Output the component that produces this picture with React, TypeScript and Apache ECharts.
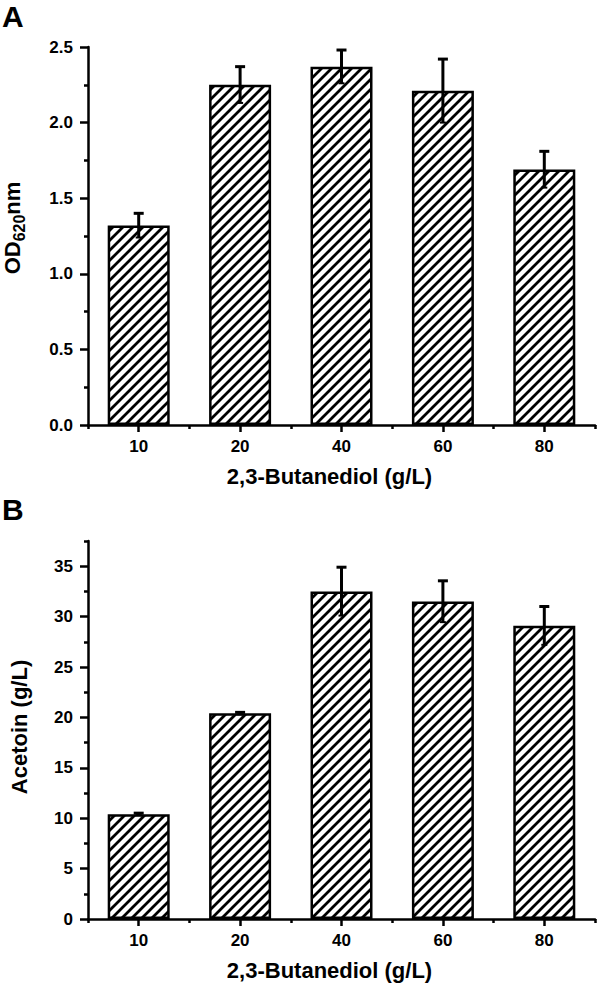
import React, { useEffect, useRef } from "react";
import * as echarts from "echarts";

const categories = ["10", "20", "40", "60", "80"];
const odMean = [1.32, 2.25, 2.37, 2.21, 1.69];
const odErr = [0.08, 0.12, 0.11, 0.21, 0.12];
const acetoinMean = [10.4, 20.4, 32.5, 31.5, 29.1];
const acetoinErr = [0.1, 0.1, 2.4, 2.05, 1.9];
const odTicks = [0, 0.5, 1.0, 1.5, 2.0, 2.5];
const acetoinTicks = [0, 5, 10, 15, 20, 25, 30, 35];
const acetoinMinorTicks = [2.5, 7.5, 12.5, 17.5, 22.5, 27.5, 32.5, 37.5];

const FONT = "'Liberation Sans', Arial, Helvetica, sans-serif";

function makeHatch() {
  const s = 10;
  const c = document.createElement("canvas");
  c.width = s;
  c.height = s;
  const ctx = c.getContext("2d") as CanvasRenderingContext2D;
  ctx.fillStyle = "#fff";
  ctx.fillRect(0, 0, s, s);
  ctx.strokeStyle = "#000";
  ctx.lineWidth = 2.8;
  ctx.beginPath();
  ctx.moveTo(-2, s + 2);
  ctx.lineTo(s + 2, -2);
  ctx.moveTo(-2, 2);
  ctx.lineTo(2, -2);
  ctx.moveTo(s - 2, s + 2);
  ctx.lineTo(s + 2, s - 2);
  ctx.stroke();
  return c;
}

function errRender(params: any, api: any) {
  const idx = api.value(0);
  const lo = api.coord([idx, api.value(1)]);
  const hi = api.coord([idx, api.value(2)]);
  const st = { stroke: "#000", lineWidth: 3 };
  return {
    type: "group",
    children: [
      { type: "line", shape: { x1: hi[0], y1: hi[1], x2: lo[0], y2: lo[1] }, style: st },
      { type: "line", shape: { x1: hi[0] - 5, y1: hi[1], x2: hi[0] + 5, y2: hi[1] }, style: st },
      { type: "line", shape: { x1: lo[0] - 3, y1: lo[1], x2: lo[0] + 3, y2: lo[1] }, style: { stroke: "#000", lineWidth: 2 } },
    ],
  };
}

export default function App() {
  const ref = useRef<HTMLDivElement>(null);
  useEffect(() => {
    const chart = echarts.init(ref.current as HTMLDivElement, null, { renderer: "svg" });
    const hatch = makeHatch();
    const axisLine = { show: true, lineStyle: { color: "#000", width: 2.5 } };
    const labelStyle = { color: "#000", fontFamily: FONT, fontWeight: "bold" as const, fontSize: 17 };
    const nameStyle = { color: "#000", fontFamily: FONT, fontWeight: "bold" as const, fontSize: 22 };

    const mainX = (gridIndex: number) => ({
      type: "category",
      gridIndex,
      position: "bottom",
      data: categories,
      boundaryGap: true,
      axisLine,
      axisTick: { show: true, alignWithLabel: true, length: 7, lineStyle: { color: "#000", width: 2.5 } },
      axisLabel: { ...labelStyle, margin: 13 },
      splitLine: { show: false },
      name: "2,3-Butanediol (g/L)",
      nameLocation: "middle",
      nameGap: 40,
      nameTextStyle: { ...nameStyle, padding: [0, 24, 0, 0] },
    });
    const boundaryX = (gridIndex: number) => ({
      type: "category",
      gridIndex,
      position: "bottom",
      data: categories,
      boundaryGap: true,
      axisLine: { show: false },
      axisTick: { show: true, alignWithLabel: false, length: 4, lineStyle: { color: "#000", width: 2.5 } },
      axisLabel: { show: false },
      splitLine: { show: false },
    });

    const option: any = {
      animation: false,
      backgroundColor: "#fff",
      grid: [
        { left: 88, top: 47, width: 507, height: 378, outerBoundsMode: "none", containLabel: false },
        { left: 88, top: 541, width: 507, height: 378, outerBoundsMode: "none", containLabel: false },
      ],
      xAxis: [mainX(0), boundaryX(0), mainX(1), boundaryX(1)],
      yAxis: [
        {
          type: "value",
          gridIndex: 0,
          position: "left",
          min: 0,
          max: 2.5,
          interval: 0.5,
          axisLine,
          axisTick: { show: true, length: 8, lineStyle: { color: "#000", width: 2.5 } },
          minorTick: { show: true, splitNumber: 2, length: 4, lineStyle: { color: "#000", width: 2.5 } },
          axisLabel: { ...labelStyle, margin: 15, formatter: (v: number) => (odTicks.includes(v) ? v.toFixed(1) : "") },
          splitLine: { show: false },
          name: "{n|OD}{s|620}{n|nm}",
          nameLocation: "middle",
          nameRotate: 90,
          nameGap: 57,
          nameTextStyle: {
            ...nameStyle,
            padding: [0, 0, 0, 16],
            rich: {
              n: { fontFamily: FONT, fontWeight: "bold", fontSize: 22, color: "#000", lineHeight: 30, verticalAlign: "top" },
              s: { fontFamily: FONT, fontWeight: "bold", fontSize: 16, color: "#000", lineHeight: 16, verticalAlign: "top", padding: [10, 0, 0, 0] },
            },
          },
        },
        {
          type: "value",
          gridIndex: 1,
          position: "left",
          min: 0,
          max: 37.5,
          interval: 5,
          axisLine,
          axisTick: { show: true, length: 8, customValues: acetoinTicks, lineStyle: { color: "#000", width: 2.5 } },
          axisLabel: { ...labelStyle, margin: 15, customValues: acetoinTicks, formatter: (v: number) => String(v) },
          splitLine: { show: false },
          name: "Acetoin (g/L)",
          nameLocation: "middle",
          nameRotate: 90,
          nameGap: 58,
          nameTextStyle: { ...nameStyle, padding: [0, 0, 0, 6] },
        },
        {
          type: "value",
          gridIndex: 1,
          position: "left",
          min: 0,
          max: 37.5,
          interval: 5,
          axisLine: { show: false },
          axisTick: { show: true, length: 4, customValues: acetoinMinorTicks, lineStyle: { color: "#000", width: 2.5 } },
          axisLabel: { show: false },
          splitLine: { show: false },
        },
      ],
      series: [
        {
          type: "bar",
          xAxisIndex: 0,
          yAxisIndex: 0,
          data: odMean,
          barWidth: 62,
          itemStyle: { color: { image: hatch, repeat: "repeat" }, borderColor: "#000", borderWidth: 2.5 },
          z: 2,
        },
        {
          type: "custom",
          xAxisIndex: 0,
          yAxisIndex: 0,
          renderItem: errRender,
          encode: { x: 0, y: [1, 2] },
          data: categories.map((_, i) => [i, odMean[i] - odErr[i], odMean[i] + odErr[i]]),
          z: 5,
        },
        {
          type: "bar",
          xAxisIndex: 2,
          yAxisIndex: 1,
          data: acetoinMean,
          barWidth: 62,
          itemStyle: { color: { image: hatch, repeat: "repeat" }, borderColor: "#000", borderWidth: 2.5 },
          z: 2,
        },
        {
          type: "custom",
          xAxisIndex: 2,
          yAxisIndex: 1,
          renderItem: errRender,
          encode: { x: 0, y: [1, 2] },
          data: categories.map((_, i) => [i, acetoinMean[i] - acetoinErr[i], acetoinMean[i] + acetoinErr[i]]),
          z: 5,
        },
      ],
      graphic: [
        { type: "text", left: 2, top: 1, style: { text: "A", fontFamily: FONT, fontWeight: "bold", fontSize: 30, fill: "#000" } },
        { type: "text", left: 2, top: 494, style: { text: "B", fontFamily: FONT, fontWeight: "bold", fontSize: 30, fill: "#000" } },
      ],
    };
    chart.setOption(option);
    return () => chart.dispose();
  }, []);
  return (
    <div
      ref={ref}
      style={{ position: "absolute", left: 0, top: 0, width: 600, height: 983, background: "#fff" }}
    />
  );
}
